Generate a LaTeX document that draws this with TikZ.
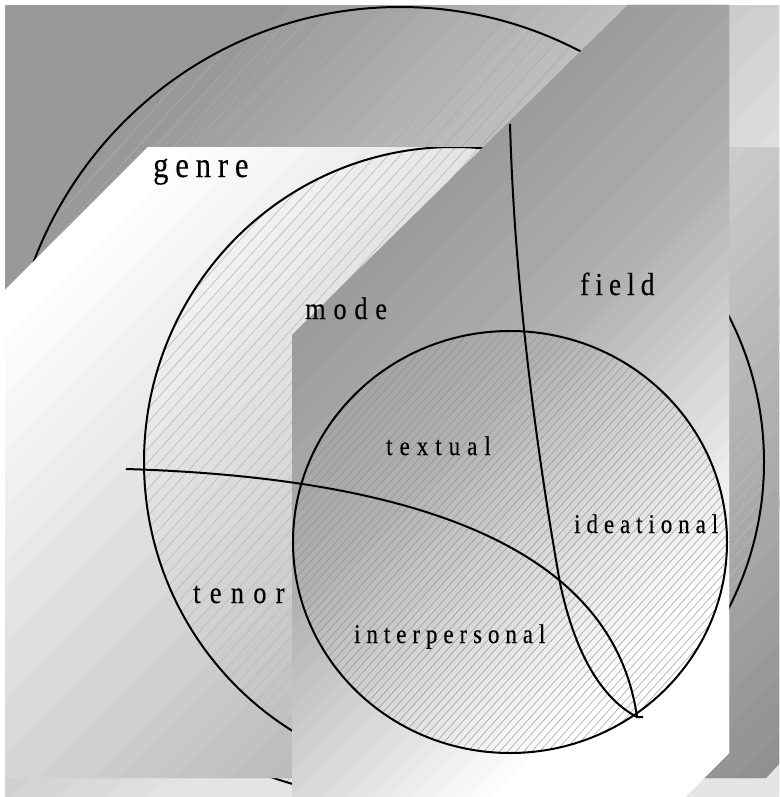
\documentclass[tikz,border=0pt]{standalone}
\usepackage{fontspec}
\newfontfamily\regfont{Liberation Serif}[FakeStretch=0.85, FakeBold=0.3]

% grey as a function of \tpos = x+y, drawn as 45 degree bands
\newcommand{\diagshade}[1]{%
  \foreach \i in {0,...,200}{
    \pgfmathsetmacro\tpos{8*\i}
    \pgfmathtruncatemacro\pc{#1}
    \fill[black!\pc] (\tpos-8,0) -- (\tpos+9,0) -- (\tpos+9-900,900) -- (\tpos-8-900,900) -- cycle;
  }
}
\newcommand{\hatchlines}[2]{%
  \pgfmathtruncatemacro\nh{1600/#1}
  \foreach \i in {0,...,\nh}{\draw[#2] (\i*#1,0) -- (\i*#1-810,900);}
}

\tikzset{
  lab/.style 2 args={anchor=base west, inner sep=0pt,
    font=\regfont\addfontfeature{LetterSpace=#2}\fontsize{#1}{#1}\selectfont},
  rim/.style={line width=2pt},
}

\begin{document}
\begin{tikzpicture}[x=1pt, y=-1pt]
\useasboundingbox (0,0) rectangle (779,797);
\clip (0,0) rectangle (779,797);

% back sheet (genre)
\begin{scope}
  \clip (5,6) rectangle (779,797);
  \diagshade{ifthenelse(\tpos<300, 40, max(10, 40-(\tpos-300)*0.043))}
  \begin{scope}
    \clip (400,403) ellipse [x radius=392, y radius=396];
    \hatchlines{18}{black!33, line width=0.6pt}
  \end{scope}
  \draw[rim] (400,403) ellipse [x radius=392, y radius=396];
\end{scope}

% middle sheet (register)
\begin{scope}
  \clip (5,290) -- (148,147) -- (779,147) -- (779,764) -- (766,778) -- (5,778) -- cycle;
  \diagshade{max(0, min(47, (\tpos-320)*0.036))}
  \begin{scope}
    \clip (454,462) ellipse [x radius=310, y radius=315];
    \hatchlines{12}{black!27, line width=0.6pt}
  \end{scope}
  \draw[rim] (454,462) ellipse [x radius=310, y radius=315];
\end{scope}

% front sheet (metafunctions)
\begin{scope}
  \clip (292,797) -- (292,335) -- (628,5) -- (729,5) -- (729,753) -- (685,797) -- cycle;
  \diagshade{ifthenelse(\tpos<900, min(40, 40-(\tpos-630)/30), max(0, 31-(\tpos-900)/13))}
  \begin{scope}
    \clip (510,542) ellipse [x radius=217, y radius=211];
    \hatchlines{8}{black!45, line width=0.4pt}
  \end{scope}
  \draw[rim] (510,542) ellipse [x radius=217, y radius=211];
\end{scope}

% dividing curves
\coordinate (west) at (126,469);
\coordinate (north) at (510,124);
\coordinate (cross) at (560,583);
\coordinate (meet) at (637,717);
\coordinate (tick) at (643,717);
\draw[rim] (west) .. controls (456,479) and (616,567) .. (meet) -- (tick);
\draw[rim] (north) .. controls (515,300) and (540,470) .. (cross)
  .. controls (572,640) and (595,695) .. (meet);

\node[lab={36}{19}] (genre) at (153,177) {genre};
\node[lab={32}{19}] (field) at (580,295) {field};
\node[lab={31}{25}] (mode) at (305,319) {mode};
\node[lab={31}{30}] (tenor) at (193,603) {tenor};
\node[lab={27}{26}] (textual) at (386,455) {textual};
\node[lab={27}{22}] (ideational) at (574,533) {ideational};
\node[lab={27}{22}] (interpersonal) at (354,643) {interpersonal};
\end{tikzpicture}
\end{document}
